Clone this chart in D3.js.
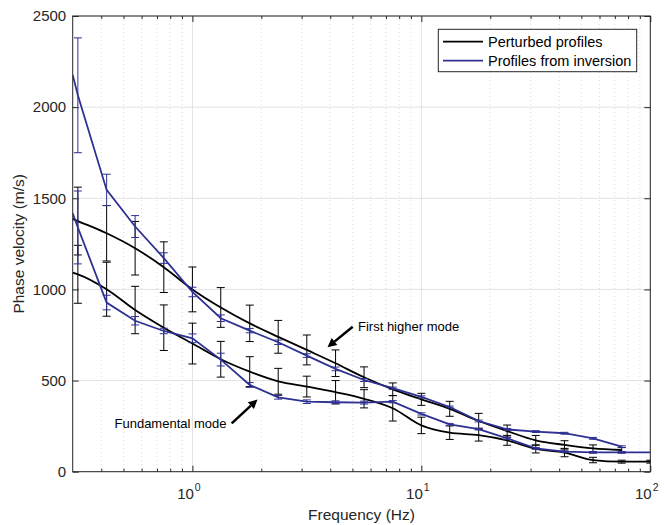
<!DOCTYPE html>
<html>
<head>
<meta charset="utf-8">
<script src="https://cdn.jsdelivr.net/npm/d3@7"></script>
<style>
  body { margin: 0; background: #fff; }
  text { font-family: "Liberation Sans", Arial, Helvetica, sans-serif; fill: #262626; }
</style>
</head>
<body>
<svg id="chart"></svg>
<script>
// DATA
// frequency of each sample (first entry is the left axis edge, lines only)
var freqHz = [0.3, 0.316, 0.422, 0.562, 0.750, 1.00, 1.33, 1.78, 2.37, 3.16, 4.22,
              5.62, 7.50, 10.0, 13.3, 17.8, 23.7, 31.6, 42.2, 56.2, 75.0, 100];

// perturbed profiles (black)
var blackUpper    = [1387, 1375, 1308, 1226, 1122, 1000, 901, 814, 740, 668, 595,
                     518, 452, 397, 345, 278, 223, 172, 147, 128, 119, null];
var blackUpperErr = [null, 186, 152, 147, 139, 123, 109, 100, 90, 82, 73,
                     57, 35, 33, 41, 42, 33, 27, 23, 19, 14, null];
var blackLower    = [1092, 1083, 1001, 887, 790, 703, 617, 549, 496, 467, 436,
                     400, 348, 254, 214, 201, 172, 125, 105, 64, 55, 55];
var blackLowerErr = [null, 159, 148, 130, 125, 112, 98, 82, 71, 57, 64,
                     50, 70, 45, 37, 33, 27, 22, 23, 15, 8, 8];

// profiles from inversion (blue)
var blueUpper     = [2177, 2065, 1546, 1345, 1172, 986, 842, 774, 710, 637, 564,
                     503, 458, 410, 355, 278, 232, 220, 211, 183, 137, null];
var blueUpperErr  = [null, 315, 86, 60, 29, 26, 18, 12, 12, 10, 10,
                     8, 6, 6, 5, 5, 5, 5, 5, 5, 5, null];
var blueLower     = [1418, 1340, 928, 828, 772, 732, 615, 476, 408, 384, 381,
                     379, 384, 317, 260, 234, 183, 128, 110, 106, 106, 106];
var blueLowerErr  = [null, 200, 40, 23, 15, 24, 35, 13, 10, 10, 8,
                     8, 6, 6, 5, 5, 5, 5, 5, 5, 5, null];

var yTicks = [0, 500, 1000, 1500, 2000, 2500];
var xTicks = [1, 10, 100];
var xMinorTicks = [0.4, 0.5, 0.6, 0.7, 0.8, 0.9, 2, 3, 4, 5, 6, 7, 8, 9,
                   20, 30, 40, 50, 60, 70, 80, 90];

var legendLabels = ["Perturbed profiles", "Profiles from inversion"];

// LAYOUT
var width = 664;
var height = 525;
var plot = {left: 72.7, right: 650.3, top: 16, bottom: 471.7};
var black = "#000000";
var blue = "#2e3192";
var axisColor = "#262626";

var svg = d3.select("#chart")
  .attr("width", width)
  .attr("height", height);

var xScale = d3.scaleLog()
  .domain([0.3, 100])
  .range([plot.left, plot.right]);

var yScale = d3.scaleLinear()
  .domain([0, 2500])
  .range([plot.bottom, plot.top]);

svg.append("defs").append("clipPath")
  .attr("id", "plotClip")
  .append("rect")
  .attr("x", plot.left)
  .attr("y", plot.top)
  .attr("width", plot.right - plot.left)
  .attr("height", plot.bottom - plot.top);

// grid
var grid = svg.append("g");

grid.selectAll(".minor")
  .data(xMinorTicks)
  .join("line")
  .attr("x1", d => xScale(d)).attr("x2", d => xScale(d))
  .attr("y1", plot.top).attr("y2", plot.bottom)
  .attr("stroke", "#d4d4d4")
  .attr("stroke-width", 0.8)
  .attr("stroke-dasharray", "1,3");

grid.selectAll(".majorx")
  .data(xTicks)
  .join("line")
  .attr("x1", d => xScale(d)).attr("x2", d => xScale(d))
  .attr("y1", plot.top).attr("y2", plot.bottom)
  .attr("stroke", "#e2e2e2");

grid.selectAll(".majory")
  .data(yTicks)
  .join("line")
  .attr("x1", plot.left).attr("x2", plot.right)
  .attr("y1", d => yScale(d)).attr("y2", d => yScale(d))
  .attr("stroke", "#e2e2e2");

// axes (box with inward ticks on all sides)
function styleAxis(g) {
  g.select(".domain").remove();
  g.selectAll(".tick line").attr("stroke", axisColor);
  g.selectAll("text").remove();
}

svg.append("g")
  .attr("transform", "translate(0," + plot.bottom + ")")
  .call(d3.axisTop(xScale).tickValues(xMinorTicks).tickSize(3))
  .call(styleAxis);
svg.append("g")
  .attr("transform", "translate(0," + plot.bottom + ")")
  .call(d3.axisTop(xScale).tickValues(xTicks).tickSize(6))
  .call(styleAxis);
svg.append("g")
  .attr("transform", "translate(0," + plot.top + ")")
  .call(d3.axisBottom(xScale).tickValues(xMinorTicks).tickSize(3))
  .call(styleAxis);
svg.append("g")
  .attr("transform", "translate(0," + plot.top + ")")
  .call(d3.axisBottom(xScale).tickValues(xTicks).tickSize(6))
  .call(styleAxis);
svg.append("g")
  .attr("transform", "translate(" + plot.left + ",0)")
  .call(d3.axisRight(yScale).tickValues(yTicks).tickSize(6))
  .call(styleAxis);
svg.append("g")
  .attr("transform", "translate(" + plot.right + ",0)")
  .call(d3.axisLeft(yScale).tickValues(yTicks).tickSize(6))
  .call(styleAxis);

svg.append("rect")
  .attr("x", plot.left).attr("y", plot.top)
  .attr("width", plot.right - plot.left)
  .attr("height", plot.bottom - plot.top)
  .attr("fill", "none")
  .attr("stroke", axisColor)
  .attr("stroke-width", 1);

// tick labels
svg.append("g").selectAll("text")
  .data(yTicks)
  .join("text")
  .attr("x", plot.left - 6.5)
  .attr("y", d => yScale(d) + 5.3)
  .attr("text-anchor", "end")
  .style("font-size", "15px")
  .text(d => d);

var xLabels = svg.append("g").selectAll("text")
  .data(xTicks)
  .join("text")
  .attr("x", d => xScale(d) - 3.5)
  .attr("y", 499)
  .attr("text-anchor", "middle")
  .style("font-size", "15px");
xLabels.append("tspan").text("10");
xLabels.append("tspan")
  .attr("dx", 1)
  .attr("dy", -8.5)
  .style("font-size", "10.5px")
  .text(d => Math.round(Math.log10(d)));

// axis titles
svg.append("text")
  .attr("x", (plot.left + plot.right) / 2)
  .attr("y", 519.5)
  .attr("text-anchor", "middle")
  .style("font-size", "15.5px")
  .text("Frequency (Hz)");

svg.append("text")
  .attr("transform", "translate(23.5," + ((plot.top + plot.bottom) / 2) + ") rotate(-90)")
  .attr("text-anchor", "middle")
  .style("font-size", "15.5px")
  .text("Phase velocity (m/s)");

// series
var series = [
  {vals: blackUpper, err: blackUpperErr, color: black, smooth: true},
  {vals: blackLower, err: blackLowerErr, color: black, smooth: true},
  {vals: blueUpper, err: blueUpperErr, color: blue, smooth: false},
  {vals: blueLower, err: blueLowerErr, color: blue, smooth: false}
];

var marks = svg.append("g").attr("clip-path", "url(#plotClip)");

series.forEach(function(s) {
  var pts = freqHz.map((f, i) => ({f: f, v: s.vals[i], e: s.err[i]}))
    .filter(d => d.v != null);

  var line = d3.line()
    .x(d => xScale(d.f))
    .y(d => yScale(d.v))
    .curve(s.smooth ? d3.curveMonotoneX : d3.curveLinear);

  marks.append("path")
    .datum(pts)
    .attr("d", line)
    .attr("fill", "none")
    .attr("stroke", s.color)
    .attr("stroke-width", 1.8);

  var bars = marks.append("g")
    .attr("stroke", s.color)
    .attr("stroke-width", 1)
    .selectAll("g")
    .data(pts.filter(d => d.e != null))
    .join("g");

  bars.append("line")
    .attr("x1", d => xScale(d.f)).attr("x2", d => xScale(d.f))
    .attr("y1", d => yScale(d.v - d.e)).attr("y2", d => yScale(d.v + d.e));
  bars.append("line")
    .attr("x1", d => xScale(d.f) - 4).attr("x2", d => xScale(d.f) + 4)
    .attr("y1", d => yScale(d.v + d.e)).attr("y2", d => yScale(d.v + d.e));
  bars.append("line")
    .attr("x1", d => xScale(d.f) - 4).attr("x2", d => xScale(d.f) + 4)
    .attr("y1", d => yScale(d.v - d.e)).attr("y2", d => yScale(d.v - d.e));
});

// annotations
function arrow(x1, y1, x2, y2) {
  var ang = Math.atan2(y2 - y1, x2 - x1);
  var len = 9, half = 4.5;
  var bx = x2 - len * Math.cos(ang), by = y2 - len * Math.sin(ang);
  svg.append("line")
    .attr("x1", x1).attr("y1", y1).attr("x2", bx).attr("y2", by)
    .attr("stroke", black).attr("stroke-width", 2.5);
  svg.append("path")
    .attr("d", "M" + x2 + "," + y2 +
      "L" + (bx + half * Math.sin(ang)) + "," + (by - half * Math.cos(ang)) +
      "L" + (bx - half * Math.sin(ang)) + "," + (by + half * Math.cos(ang)) + "Z")
    .attr("fill", black);
}

arrow(352.7, 326.7, 327.5, 347.3);
svg.append("text")
  .attr("x", 358).attr("y", 330.5)
  .style("font-size", "13px")
  .style("fill", "#000")
  .text("First higher mode");

arrow(231.7, 423.3, 257.5, 399.5);
svg.append("text")
  .attr("x", 114.5).attr("y", 428.3)
  .style("font-size", "13px")
  .style("fill", "#000")
  .text("Fundamental mode");

// legend
var legend = svg.append("g");
legend.append("rect")
  .attr("x", 438.3).attr("y", 29.3)
  .attr("width", 198.4).attr("height", 42.4)
  .attr("fill", "#fff")
  .attr("stroke", axisColor)
  .attr("stroke-width", 1);

var items = legend.selectAll(".item")
  .data(legendLabels)
  .join("g")
  .attr("transform", (d, i) => "translate(0," + (41.7 + i * 19) + ")");
items.append("line")
  .attr("x1", 443).attr("x2", 483)
  .attr("stroke", (d, i) => i === 0 ? black : blue)
  .attr("stroke-width", 1.8);
items.append("text")
  .attr("x", 488).attr("y", 5)
  .style("font-size", "14.5px")
  .style("fill", "#000")
  .text(d => d);
</script>
</body>
</html>
